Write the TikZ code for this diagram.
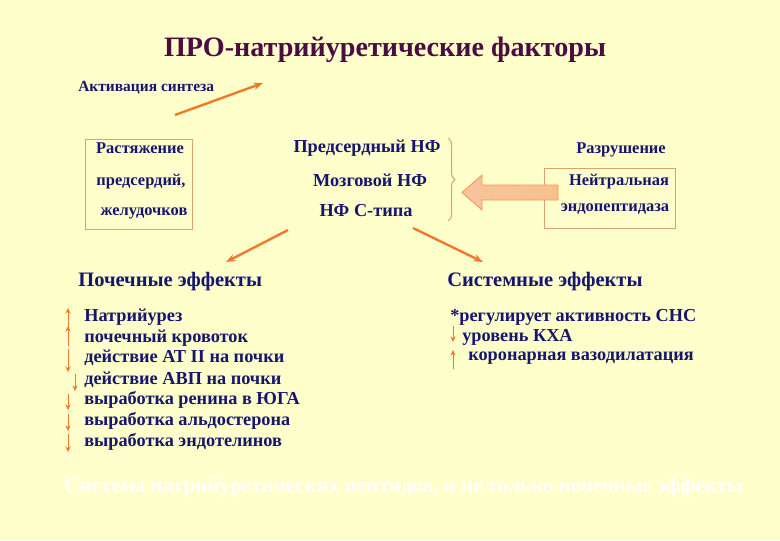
\documentclass[tikz,border=0pt]{standalone}
\usepackage{fontspec}
\setmainfont{Liberation Serif}
\usetikzlibrary{arrows.meta, positioning, decorations.pathreplacing}
\definecolor{paleyel}{HTML}{FFFFCC}
\definecolor{navy}{HTML}{16166E}
\definecolor{plum}{HTML}{4A0C42}
\definecolor{orng}{HTML}{F07A28}
\definecolor{tanline}{HTML}{D9A46A}
\definecolor{peach}{HTML}{F9C08E}

\begin{document}
\begin{tikzpicture}[x=0.025cm, y=-0.025cm, >={Stealth[length=2.4mm, width=1.8mm]},
  txt/.style={font=\fontsize{13}{15}\selectfont\bfseries, text=navy, inner sep=0pt},
  boxtxt/.style={txt, font=\fontsize{11.7}{14}\selectfont\bfseries},
  head/.style={font=\fontsize{14.6}{17}\selectfont\bfseries, text=navy, inner sep=0pt},
  link/.style={->, orng, line width=1.7pt},
  tick/.style={orng, line width=0.6pt, -{Stealth[length=1.4mm, width=1.3mm]}}]

% Background
\fill[paleyel] (0,0) rectangle (780,540);

% Title
\node[font=\fontsize{20}{23}\selectfont\bfseries, text=plum] (title) at (385,50)
  {ПРО-натрийуретические факторы};

% Activation of synthesis
\node[txt, font=\fontsize{11}{13}\selectfont\bfseries, anchor=west] (act) at (78,88)
  {Активация синтеза};
\coordinate (actA) at (175,115);
\coordinate (actB) at (263,83);
\draw[link] (actA) -- (actB);

% Stretch box (left)
\draw[tanline, line width=0.6pt] (85,139) rectangle (192,229);
\node[boxtxt] (str1) at (140,148) {Растяжение};
\node[boxtxt] (str2) at (141,182) {предсердий,};
\node[boxtxt] (str3) at (144,213) {желудочков};

% Peptides (centre)
\node[txt] (anp) at (367,148) {Предсердный НФ};
\node[txt] (bnp) at (370,180) {Мозговой НФ};
\node[txt] (cnp) at (366,211) {НФ С-типа};
\draw[tanline, line width=0.7pt, decorate, decoration={brace, amplitude=5pt}]
  (448,138) -- (448,221);

% Degradation (right)
\node[boxtxt] (deg) at (621,150) {Разрушение};
\draw[tanline, line width=0.6pt] (544,168) rectangle (675,228);
\node[boxtxt] (nep1) at (619,182) {Нейтральная};
\node[boxtxt] (nep2) at (615,209) {эндопептидаза};
\draw[orng!80, line width=0.6pt, left color=orng!45, right color=peach]
  (558,185) -- (482,185) -- (482,175) -- (462,192.5) -- (482,210)
  -- (482,200) -- (558,200) -- cycle;

% Effects
\coordinate (renA) at (288,230);
\coordinate (renB) at (226,262);
\draw[link] (renA) -- (renB);
\coordinate (sysA) at (413,228);
\coordinate (sysB) at (483,262);
\draw[link] (sysA) -- (sysB);

\node[head, anchor=west] (renal) at (78,282) {Почечные эффекты};
\node[head, anchor=west] (system) at (447,282) {Системные эффекты};

% Renal list
\foreach \i/\y/\t in {1/317/Натрийурез, 2/338/почечный кровоток,
    3/358/действие АТ II на почки, 4/380/действие АВП на почки,
    5/400/выработка ренина в ЮГА, 6/421/выработка альдостерона,
    7/442/выработка эндотелинов}
  \node[txt, anchor=west] (ren\i) at (84,\y) {\t};

\foreach \x/\ya/\yb in {68/327/308, 68/346/326, 68/349/372, 75/374/391,
    68/394/410, 68/414/431, 68/434/452}
  \draw[tick] (\x,\ya) -- (\x,\yb);

% Systemic list
\node[txt, anchor=west] (sys1) at (450,317) {*регулирует активность СНС};
\node[txt, anchor=west] (sys2) at (462,337) {уровень КХА};
\node[txt, anchor=west] (sys3) at (468,358) {коронарная вазодилатация};
\draw[tick] (453,326) -- (453,342);
\draw[tick] (453,369) -- (453,350);

% Footer (white)
\node[txt, font=\fontsize{15}{17}\selectfont\bfseries, text=white] (foot) at (404,487)
  {Система натрийуретических пептидов, и не только почечные эффекты};

\end{tikzpicture}
\end{document}
